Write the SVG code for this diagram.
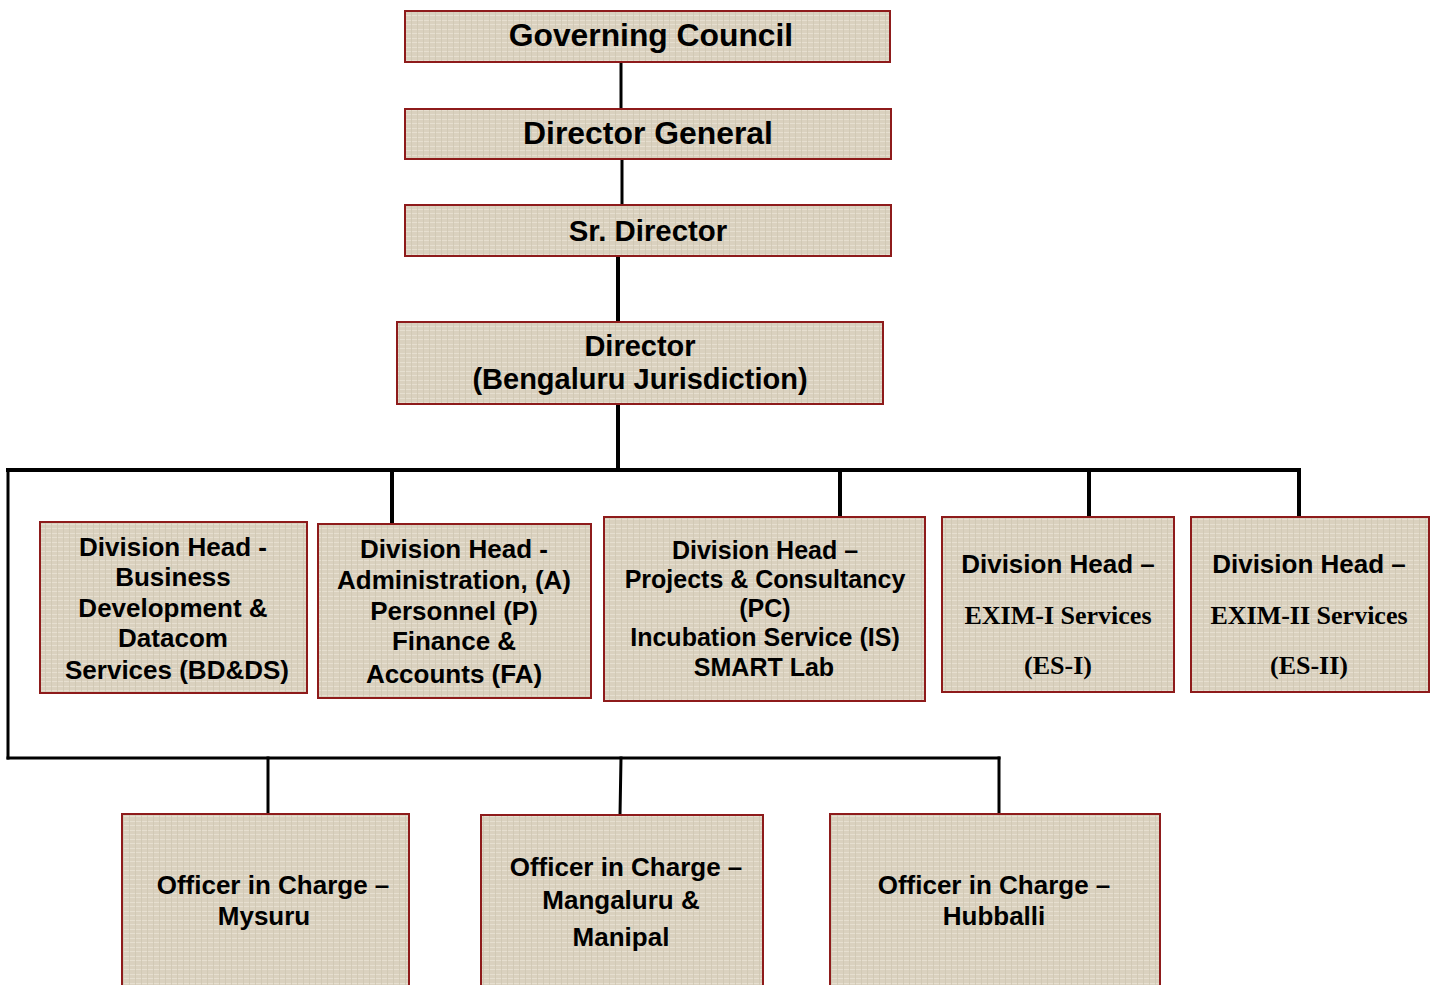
<svg xmlns="http://www.w3.org/2000/svg" width="1436" height="985" viewBox="0 0 1436 985">
<defs>
<pattern id="linen" width="12" height="9" patternUnits="userSpaceOnUse">
<rect width="12" height="9" fill="#DAD1BF"/>
<path d="M0 2.5H12M0 6.5H12" stroke="#E6DFD0" stroke-width="1"/>
<path d="M3.5 0V9M9.5 0V9" stroke="#CFC6B3" stroke-width="0.8"/>
</pattern>
<style>
.box{fill:url(#linen);stroke:#8E1B1B;stroke-width:2}
.t{font-family:"Liberation Sans",Arial,sans-serif;font-weight:bold;fill:#000;text-anchor:middle}
.s{font-family:"Liberation Serif","Times New Roman",serif;font-weight:bold;fill:#000;text-anchor:middle}
.c{stroke:#000;fill:none;stroke-linecap:square}
</style>
</defs>
<rect width="1436" height="985" fill="#FFFFFF"/>
<g id="connectors">
<line class="c" x1="621" y1="63" x2="621" y2="108" stroke-width="3"/>
<line class="c" x1="622" y1="160" x2="622" y2="204" stroke-width="3"/>
<line class="c" x1="618" y1="257" x2="618" y2="321" stroke-width="4"/>
<line class="c" x1="618" y1="405" x2="618" y2="470" stroke-width="4"/>
<line class="c" x1="8" y1="470" x2="1299" y2="470" stroke-width="4"/>
<line class="c" x1="8" y1="470" x2="8" y2="758" stroke-width="3"/>
<line class="c" x1="392" y1="470" x2="392" y2="523" stroke-width="4"/>
<line class="c" x1="840" y1="470" x2="840" y2="517" stroke-width="4"/>
<line class="c" x1="1089" y1="470" x2="1089" y2="516" stroke-width="4"/>
<line class="c" x1="1299" y1="470" x2="1299" y2="516" stroke-width="4"/>
<line class="c" x1="8" y1="758" x2="999" y2="758" stroke-width="3"/>
<line class="c" x1="268" y1="758" x2="268" y2="816" stroke-width="3"/>
<line class="c" x1="621" y1="758" x2="620" y2="816" stroke-width="3"/>
<line class="c" x1="999" y1="758" x2="999" y2="813" stroke-width="3"/>
</g>
<g id="governing-council">
<rect class="box" x="405" y="11" width="485" height="51"/>
<text class="t" x="651" y="46" font-size="31.8">Governing Council</text>
</g>
<g id="director-general">
<rect class="box" x="405" y="109" width="486" height="50"/>
<text class="t" x="648" y="144" font-size="31.9">Director General</text>
</g>
<g id="sr-director">
<rect class="box" x="405" y="205" width="486" height="51"/>
<text class="t" x="648" y="241" font-size="29.4">Sr. Director</text>
</g>
<g id="director">
<rect class="box" x="397" y="322" width="486" height="82"/>
<text class="t" x="640" y="356" font-size="29">Director</text>
<text class="t" x="640" y="389" font-size="29">(Bengaluru Jurisdiction)</text>
</g>
<g id="dh-bdds">
<rect class="box" x="40" y="522" width="267" height="171"/>
<text class="t" font-size="26"><tspan x="173" y="556">Division Head -</tspan><tspan x="173" y="586">Business</tspan><tspan x="173" y="617">Development &amp;</tspan><tspan x="173" y="647">Datacom</tspan><tspan x="177" y="679">Services (BD&amp;DS)</tspan></text>
</g>
<g id="dh-admin">
<rect class="box" x="318" y="524" width="273" height="174"/>
<text class="t" font-size="26"><tspan x="454" y="558">Division Head -</tspan><tspan x="454" y="589">Administration, (A)</tspan><tspan x="454" y="620">Personnel (P)</tspan><tspan x="454" y="650">Finance &amp;</tspan><tspan x="454" y="683">Accounts (FA)</tspan></text>
</g>
<g id="dh-pc">
<rect class="box" x="604" y="517" width="321" height="184"/>
<text class="t" font-size="25"><tspan x="765" y="559">Division Head –</tspan><tspan x="765" y="588">Projects &amp; Consultancy</tspan><tspan x="765" y="617">(PC)</tspan><tspan x="765" y="646">Incubation Service (IS)</tspan><tspan x="764" y="676">SMART Lab</tspan></text>
</g>
<g id="dh-es1">
<rect class="box" x="942" y="517" width="232" height="175"/>
<text class="t" x="1058" y="573" font-size="26">Division Head –</text>
<text class="s" x="1058" y="624" font-size="26">EXIM-I Services</text>
<text class="s" x="1058" y="674" font-size="26">(ES-I)</text>
</g>
<g id="dh-es2">
<rect class="box" x="1191" y="517" width="238" height="175"/>
<text class="t" x="1309" y="573" font-size="26">Division Head –</text>
<text class="s" x="1309" y="624" font-size="26">EXIM-II Services</text>
<text class="s" x="1309" y="674" font-size="26">(ES-II)</text>
</g>
<g id="oic-mysuru">
<rect class="box" x="122" y="814" width="287" height="180"/>
<text class="t" x="273" y="894" font-size="26">Officer in Charge –</text>
<text class="t" x="264" y="925" font-size="26">Mysuru</text>
</g>
<g id="oic-mangaluru">
<rect class="box" x="481" y="815" width="282" height="180"/>
<text class="t" x="626" y="876" font-size="26">Officer in Charge –</text>
<text class="t" x="621" y="909" font-size="26">Mangaluru &amp;</text>
<text class="t" x="621" y="946" font-size="26">Manipal</text>
</g>
<g id="oic-hubballi">
<rect class="box" x="830" y="814" width="330" height="180"/>
<text class="t" x="994" y="894" font-size="26">Officer in Charge –</text>
<text class="t" x="994" y="925" font-size="26">Hubballi</text>
</g>
</svg>
